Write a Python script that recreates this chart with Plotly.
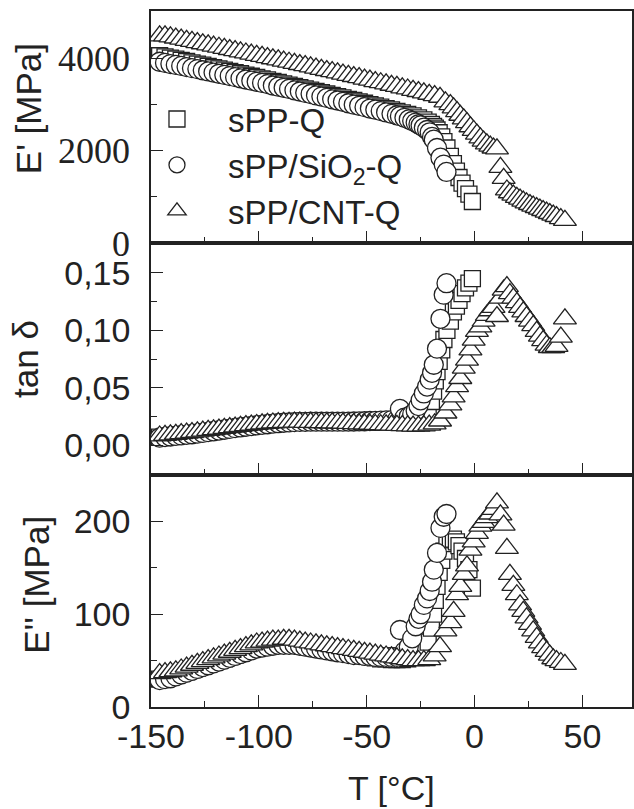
import plotly.graph_objects as go

# ---------------- data ----------------
G = [-146, -143.5, -141, -138.5, -136, -133.5, -131, -128.5, -126, -123.5, -121, -118.5, -116,
     -113.5, -111, -108.5, -106, -103.5, -101, -98.5, -96, -93.5, -91, -88.5, -86, -83.5, -81,
     -78.5, -76, -73.5, -71, -68.5, -66, -63.5, -61, -58.5, -56, -53.5, -51, -48.5, -46, -43.5,
     -41, -38.5, -36]

# sPP-Q (squares)
T_sq = G + [-33.5, -31, -28.5, -26, -23.5,
            -21.5, -20, -19, -18.2, -17.4, -16.4, -15.2, -14.2, -12.8, -11.2, -9.8, -8.4, -7.2,
            -5.8, -4.2, -2.6, -1.0]
E1_sq = [4060, 4035, 4010, 3985, 3960, 3935, 3905, 3880, 3855, 3830, 3800, 3775, 3750, 3720, 3695,
         3670, 3640, 3615, 3590, 3560, 3535, 3505, 3480, 3450, 3425, 3395, 3370, 3340, 3315, 3285,
         3260, 3230, 3200, 3175, 3145, 3115, 3090, 3060, 3030, 3000, 2975, 2945, 2915, 2885, 2855,
         2820, 2790, 2755, 2715, 2670,
         2620, 2570, 2530, 2490, 2450, 2390, 2300, 2200, 2060, 1880, 1720, 1560, 1420, 1300, 1180,
         1060, 900]
TD_sq = [0.0070, 0.0075, 0.0080, 0.0085, 0.0090, 0.0095, 0.0100, 0.0105, 0.0110, 0.0118, 0.0125,
         0.0132, 0.0139, 0.0146, 0.0152, 0.0158, 0.0164, 0.0170, 0.0175, 0.0180, 0.0185, 0.0190,
         0.0194, 0.0198, 0.0200, 0.0202, 0.0204, 0.0205, 0.0205, 0.0205, 0.0205, 0.0204, 0.0203,
         0.0202, 0.0201, 0.0200, 0.0200, 0.0199, 0.0199, 0.0198, 0.0198, 0.0198, 0.0198, 0.0198,
         0.0198,
         0.0200, 0.0205, 0.0215, 0.0228, 0.0250,
         0.030, 0.038, 0.047, 0.056, 0.064, 0.073, 0.083, 0.092, 0.100, 0.108, 0.116, 0.121, 0.126,
         0.132, 0.137, 0.141, 0.145]
E2_sq = [30, 31, 32, 34, 36, 38, 40, 42, 44, 46, 48, 50, 52, 54, 56, 58, 60, 62, 64, 65, 66, 67, 68,
         68, 68, 68, 67, 66, 65, 64, 63, 62, 61, 60, 59, 58, 57, 56, 55, 54, 53, 52, 52, 51, 51,
         51, 52, 54, 57, 62,
         70, 85, 100, 115, 130, 145, 158, 168, 176, 180, 181, 178, 174, 168, 160, 148, 128]

# sPP/SiO2-Q (circles)
T_ci = G + [-34.6, -32.5, -30.5, -28.9, -27.3, -26.0, -25.0, -23.5, -22.0, -20.8, -19.7, -18.9,
            -17.4, -15.8, -14.3, -13.0]
E1_ci = [3930, 3905, 3880, 3860, 3840, 3815, 3790, 3770, 3745, 3720, 3695, 3670, 3645, 3620, 3595,
         3570, 3545, 3520, 3495, 3470, 3445, 3415, 3390, 3365, 3340, 3310, 3285, 3255, 3230, 3200,
         3175, 3145, 3115, 3090, 3060, 3030, 3000, 2975, 2945, 2915, 2890, 2860, 2830, 2800, 2770,
         2750, 2715, 2680, 2645, 2610, 2575, 2550, 2500, 2450, 2400, 2300, 2240, 2060, 1850, 1700,
         1540]
TD_ci = [0.0065, 0.0070, 0.0075, 0.0080, 0.0085, 0.0090, 0.0095, 0.0100, 0.0106, 0.0113, 0.0120,
         0.0127, 0.0134, 0.0141, 0.0148, 0.0154, 0.0160, 0.0166, 0.0172, 0.0177, 0.0182, 0.0187,
         0.0191, 0.0195, 0.0198, 0.0200, 0.0202, 0.0203, 0.0204, 0.0204, 0.0204, 0.0204, 0.0204,
         0.0204, 0.0204, 0.0205, 0.0206, 0.0207, 0.0208, 0.0210, 0.0212, 0.0214, 0.0216, 0.0218,
         0.0220,
         0.0315, 0.024, 0.025, 0.027, 0.030, 0.034, 0.039, 0.045, 0.051, 0.057, 0.063, 0.070, 0.084,
         0.110, 0.131, 0.141]
E2_ci = [29, 30, 31, 33, 35, 37, 39, 41, 43, 45, 47, 49, 51, 53, 55, 57, 59, 61, 63, 64, 65, 66, 67,
         67, 67, 67, 66, 65, 64, 63, 62, 61, 60, 59, 58, 57, 56, 56, 55, 55, 54, 54, 54, 54, 54,
         83, 60, 65, 74, 87, 95, 100, 110, 117, 125, 135, 148, 166, 193, 205, 208]

# sPP/CNT-Q (triangles)
T_tr = G + [-33.5, -31, -28.5, -26, -23.5, -21, -18.5, -16,
            -13.5, -11.2, -9.7, -8.1, -6.6, -5.0, -3.5, -1.9, -0.4, 1.1, 2.7, 4.2, 5.7, 7.3, 8.8,
            10.4, 12.0, 13.5, 15.0, 16.4, 18.0, 19.6, 21.1, 22.6, 24.1, 25.7, 27.2, 28.8, 30.3, 31.8,
            33.4, 34.9, 36.5, 38.0, 40.0, 41.9]
E1_tr = [4490, 4490, 4470, 4445, 4420, 4395, 4370, 4345, 4320, 4295, 4270, 4245, 4220, 4195, 4170,
         4145, 4120, 4095, 4070, 4045, 4020, 3995, 3970, 3945, 3920, 3895, 3870, 3845, 3820, 3790,
         3765, 3740, 3715, 3690, 3660, 3635, 3610, 3585, 3555, 3530, 3500, 3475, 3450, 3420, 3395,
         3365, 3340, 3310, 3285, 3255, 3225, 3195, 3160,
         3060, 3000, 2930, 2850, 2770, 2690, 2610, 2520, 2440, 2360, 2280, 2210, 2150, 2100, 2060,
         2040, 1640, 1400, 1150, 1090, 1040, 990, 950, 910, 870, 835, 800, 770, 735, 705, 670, 640,
         605, 575, 530, 490]
TD_tr = [0.0080, 0.0085, 0.0090, 0.0095, 0.0100, 0.0105, 0.0110, 0.0116, 0.0122, 0.0128, 0.0134,
         0.0140, 0.0146, 0.0152, 0.0158, 0.0164, 0.0170, 0.0175, 0.0180, 0.0185, 0.0189, 0.0193,
         0.0196, 0.0198, 0.0199, 0.0200, 0.0200, 0.0199, 0.0198, 0.0197, 0.0196, 0.0195, 0.0194,
         0.0193, 0.0192, 0.0190, 0.0188, 0.0186, 0.0184, 0.0182, 0.0180, 0.0178, 0.0176, 0.0174,
         0.0172,
         0.0170, 0.0168, 0.0166, 0.0166, 0.0168, 0.0174, 0.0185, 0.0210,
         0.028, 0.035, 0.042, 0.051, 0.058, 0.067, 0.074, 0.083, 0.0915, 0.099, 0.103, 0.108, 0.113,
         0.117, 0.120, 0.112, 0.128, 0.135, 0.138, 0.132, 0.128, 0.124, 0.120, 0.116, 0.112, 0.108,
         0.104, 0.099, 0.095, 0.091, 0.087, 0.085, 0.085, 0.086, 0.094, 0.110]
E2_tr = [36, 37, 38, 39, 41, 43, 45, 47, 49, 51, 53, 55, 57, 59, 61, 63, 65, 67, 69, 70, 71, 72, 72,
         73, 73, 72, 71, 70, 69, 68, 67, 66, 65, 64, 63, 62, 61, 60, 59, 58, 57, 56, 55, 54, 53,
         52, 51, 50, 50, 50, 51, 55, 65,
         82, 91, 103, 121, 130, 143, 152, 169, 178, 187, 195, 199, 204, 208, 213, 220, 207, 196,
         171, 143, 131, 121, 110, 103, 96, 89, 82, 75, 69, 64, 60, 56, 52, 50, 48, 46]

names = ["sPP-Q", "sPP/SiO<sub>2</sub>-Q", "sPP/CNT-Q"]

# tick values / labels
x_tickvals = [-150, -100, -50, 0, 50]
x_ticktext = ["-150", "-100", "-50", "0", "50"]
x_minor = [-125, -75, -25, 25]
y1_tickvals = [0, 2000, 4000]
y1_ticktext = ["0", "2000", "4000"]
y1_minor = [1000, 3000]
y2_tickvals = [0.0, 0.05, 0.10, 0.15]
y2_ticktext = ["0,00", "0,05", "0,10", "0,15"]
y2_minor = [0.025, 0.075, 0.125]
y3_tickvals = [0, 100, 200]
y3_ticktext = ["0", "100", "200"]
y3_minor = [50, 150]

# ---------------- figure ----------------
INK = "#222222"
series = [
    (T_sq, E1_sq, TD_sq, E2_sq, "square", 16),
    (T_ci, E1_ci, TD_ci, E2_ci, "circle", 19),
    (T_tr, E1_tr, TD_tr, E2_tr, "triangle-up", 20),
]

fig = go.Figure()
for i, (t, e1, td, e2, sym, sz) in enumerate(series):
    mk = dict(symbol=sym, size=sz, color="white", line=dict(color=INK, width=1.3))
    fig.add_trace(go.Scatter(x=t, y=e1, mode="markers", marker=mk, name=names[i],
                             legendgroup=str(i), showlegend=True, xaxis="x3", yaxis="y3"))
    fig.add_trace(go.Scatter(x=t, y=td, mode="markers", marker=mk, name=names[i],
                             legendgroup=str(i), showlegend=False, xaxis="x2", yaxis="y2"))
    fig.add_trace(go.Scatter(x=t, y=e2, mode="markers", marker=mk, name=names[i],
                             legendgroup=str(i), showlegend=False, xaxis="x", yaxis="y"))

SANS = "Liberation Sans, Arial, sans-serif"
SERIF = "Liberation Serif, Times New Roman, serif"

def xax(anchor, labels):
    return dict(range=[-150, 73], anchor=anchor, domain=[0, 1],
                tickmode="array", tickvals=x_tickvals, ticktext=x_ticktext,
                showticklabels=labels, ticks="inside", ticklen=12, tickwidth=1.3, tickcolor=INK,
                minor=dict(ticks="inside", ticklen=6, tickwidth=1.3, tickcolor=INK,
                           tickmode="array", tickvals=x_minor),
                showline=True, linecolor=INK, linewidth=1.5, mirror=True,
                showgrid=False, zeroline=False,
                tickfont=dict(family=SANS, size=34, color=INK), ticklabelstandoff=-2)

def yax(anchor, dom, rng, tv, tt, mn, font):
    return dict(range=rng, anchor=anchor, domain=dom,
                tickmode="array", tickvals=tv, ticktext=tt,
                ticks="inside", ticklen=12, tickwidth=1.3, tickcolor=INK,
                minor=dict(ticks="inside", ticklen=6, tickwidth=1.3, tickcolor=INK,
                           tickmode="array", tickvals=mn),
                showline=True, linecolor=INK, linewidth=1.5, mirror=True,
                showgrid=False, zeroline=False, tickfont=font, ticklabelstandoff=12)

fig.update_layout(
    width=634, height=809,
    margin=dict(l=151, r=0, t=11, b=102),
    paper_bgcolor="white", plot_bgcolor="white",
    xaxis=xax("y", True),
    xaxis2=xax("y2", False),
    xaxis3=xax("y3", False),
    yaxis=yax("x", [0, 1/3], [0, 250], y3_tickvals, y3_ticktext, y3_minor,
              dict(family=SANS, size=34, color=INK)),
    yaxis2=yax("x2", [1/3, 2/3], [-0.026, 0.176], y2_tickvals, y2_ticktext, y2_minor,
               dict(family=SANS, size=34, color=INK)),
    yaxis3=yax("x3", [2/3, 1], [0, 5030], y1_tickvals, y1_ticktext, y1_minor,
               dict(family=SERIF, size=36, color=INK)),
    showlegend=True,
    legend=dict(x=-0.052, y=0.885, xanchor="left", yanchor="top",
                bgcolor="rgba(0,0,0,0)", borderwidth=0, itemwidth=92,
                font=dict(family=SANS, size=33, color=INK), tracegroupgap=0),
    annotations=[
        dict(text="E' [MPa]", xref="paper", yref="paper", x=-0.255, y=0.8595, textangle=-90,
             showarrow=False, font=dict(family=SANS, size=35, color=INK),
             xanchor="center", yanchor="middle"),
        dict(text="tan δ", xref="paper", yref="paper", x=-0.262, y=0.5, textangle=-90,
             showarrow=False, font=dict(family=SANS, size=35, color=INK),
             xanchor="center", yanchor="middle"),
        dict(text="E'' [MPa]", xref="paper", yref="paper", x=-0.238, y=0.175, textangle=-90,
             showarrow=False, font=dict(family=SANS, size=35, color=INK),
             xanchor="center", yanchor="middle"),
        dict(text="T [°C]", xref="paper", yref="paper", x=0.5, y=-0.117,
             showarrow=False, font=dict(family=SANS, size=34, color=INK),
             xanchor="center", yanchor="middle"),
    ],
)

fig.write_html("out.html", config={"displayModeBar": False},
               post_script="document.body.style.margin='0';")
